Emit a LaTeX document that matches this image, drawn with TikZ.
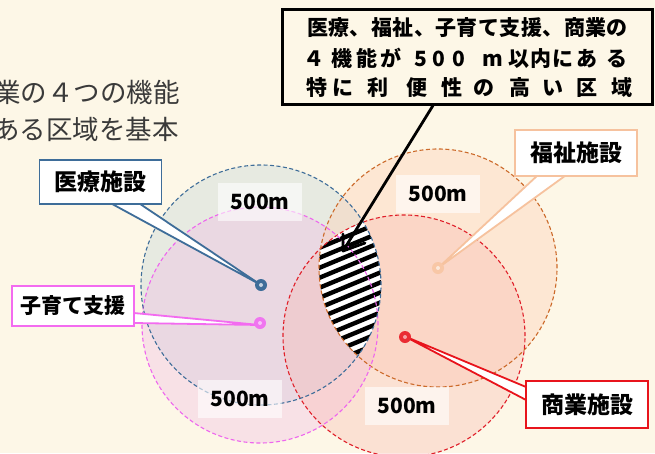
\documentclass[tikz,border=0pt]{standalone}
\usepackage{fontspec}
\newfontfamily\jp{Noto Sans CJK JP}
\usetikzlibrary{arrows.meta,calc}
\definecolor{bg}{HTML}{FDF7E7}
\definecolor{cBlue}{HTML}{3E6D99}
\definecolor{cMag}{HTML}{EE66EE}
\definecolor{cOra}{HTML}{CC6A2A}
\definecolor{cRed}{HTML}{E0202A}
\definecolor{fBlue}{HTML}{C8D8D8}
\definecolor{fMag}{HTML}{F0B8E6}
\definecolor{fOra}{HTML}{FDD2B8}
\definecolor{fRed}{HTML}{F8B8B0}
\definecolor{bMag}{HTML}{F36BF0}
\definecolor{bPeach}{HTML}{F6C29E}
\definecolor{bRed}{HTML}{E8141C}
\definecolor{dPeach}{HTML}{F8C7A6}
\definecolor{introgray}{HTML}{3A3A3A}
\begin{document}
\begin{tikzpicture}[x=1pt,y=-1pt,
  txt/.style={inner sep=0pt, text height=0.82em, text depth=0.18em, font=\jp\bfseries\fontsize{21}{21}\selectfont},
  callout/.style={draw, line width=1.8pt, fill=white, minimum width=122pt, inner sep=0pt, font=\jp\bfseries\fontsize{23}{23}\selectfont, text=black},
  distlab/.style={fill=white, fill opacity=0.6, text opacity=1, minimum width=84pt, minimum height=38pt, inner sep=0pt, font=\jp\bfseries\fontsize{21}{21}\selectfont},
  ring/.style={dash pattern=on 4pt off 2.5pt, line width=1.1pt},
  wedge/.style={line width=1.8pt, fill=white, line join=miter},
  arrowline/.style={line width=2.8pt, black, line cap=round, line join=round},
  intro/.style={anchor=west, inner sep=0pt, text=introgray, font=\jp\fontsize{26.5}{26.5}\selectfont}
]
\useasboundingbox (0,0) rectangle (655,453);
\fill[bg] (0,0) rectangle (655,453);

% centres
\coordinate (cMed) at (261,285);
\coordinate (cChild) at (260,325);
\coordinate (cWel) at (438,268);
\coordinate (cCom) at (404,336);

% circle fills
\fill[fBlue, fill opacity=0.4] (cMed) circle (120pt);
\fill[fMag, fill opacity=0.35] (cChild) circle (118pt);
\fill[fOra, fill opacity=0.42] (cWel) circle (119pt);
\fill[fRed, fill opacity=0.35] (cCom) circle (121pt);

% hatched intersection
\begin{scope}
  \clip (cMed) circle (120pt);
  \clip (cWel) circle (119pt);
  \clip (cCom) circle (121pt);
  \fill[white] (300,220) rectangle (400,370);
  \foreach \k in {0,...,22} {
    \draw[black, line width=4.4pt] (290,240+\k*10) -- ++(130,-54);
  }
\end{scope}

% dashed circles
\draw[ring, cRed] (cCom) circle (121pt);
\draw[ring, cOra] (cWel) circle (119pt);
\draw[ring, cMag] (cChild) circle (118pt);
\draw[ring, cBlue] (cMed) circle (120pt);

% distance labels
\node[distlab] (labA) at (260,202) {500m};
\node[distlab] (labB) at (438,194) {500m};
\node[distlab] (labC) at (240,399) {500m};
\node[distlab] (labD) at (407,406) {500m};

% pointers
\node[callout, draw=cBlue, minimum height=44pt] (boxMed) at (100.5,182) {医療施設};
\node[callout, draw=bMag, minimum height=40pt, font=\jp\bfseries\fontsize{21}{21}\selectfont] (boxChild) at (73,306) {子育て支援};
\node[callout, draw=bPeach, minimum height=46pt] (boxWel) at (576,153) {福祉施設};
\node[callout, draw=bRed, minimum height=47pt] (boxCom) at (587,404.5) {商業施設};

\draw[wedge, draw=cBlue] ($(boxMed.south)+(11.5,-1)$) -- (cMed) -- ($(boxMed.south)+(39.5,-1)$);
\draw[wedge, draw=bMag] ($(boxChild.east)+(-1,7)$) -- (cChild) -- ($(boxChild.east)+(-1,17)$);
\draw[wedge, draw=bPeach] ($(boxWel.south)+(-39,-1)$) -- (cWel) -- ($(boxWel.south)+(-11,-1)$);
\draw[wedge, draw=bRed] ($(boxCom.west)+(1,-17.5)$) -- (cCom) -- ($(boxCom.west)+(1,-4.5)$);

% redraw boxes over pointer bases
\node[callout, draw=cBlue, minimum height=44pt] (boxMedT) at (boxMed) {医療施設};
\node[callout, draw=bMag, minimum height=40pt, font=\jp\bfseries\fontsize{21}{21}\selectfont] (boxChildT) at (boxChild) {子育て支援};
\node[callout, draw=bPeach, minimum height=46pt] (boxWelT) at (boxWel) {福祉施設};
\node[callout, draw=bRed, minimum height=47pt] (boxComT) at (boxCom) {商業施設};

% dots
\fill[cBlue] (cMed) circle (6pt);
\fill[white!70!cBlue] (cMed) circle (2pt);
\fill[cMag!90!white] ($(cChild)+(0,-2)$) circle (6pt);
\fill[white!60!cMag] ($(cChild)+(0,-2)$) circle (2pt);
\fill[dPeach] (cWel) circle (6pt);
\fill[white!60!dPeach] (cWel) circle (2pt);
\fill[bRed!90!white] ($(cCom)+(1,1)$) circle (6pt);
\fill[white!60!bRed] ($(cCom)+(1,1)$) circle (2pt);

% top box
\node[draw=black, line width=3pt, fill=bg, minimum width=370pt, minimum height=95pt, inner sep=0pt] (topbox) at (467.5,56.5) {};
\node[txt] (line1) at (467.5,32) {\makebox[321pt][s]{医\hfill 療\hfill 、\hfill 福\hfill 祉\hfill 、\hfill 子\hfill 育\hfill て\hfill 支\hfill 援\hfill 、\hfill 商\hfill 業\hfill の}};
\foreach \xx/\ch [count=\i] in {314/４,342/機,367/能,391/が,421/5,439/0,459/0,493/m,519/以,541/内,563/に,587/あ,617/る} {
  \node[txt] (lineB\i) at (\xx,63) {\ch};
}
\foreach \xx/\ch [count=\i] in {317/特,343/に,378/利,417/便,452/性,484/の,520/高,553/い,587/区,622/域} {
  \node[txt] (lineC\i) at (\xx,92) {\ch};
}

% arrow with open barbs
\coordinate (arrTip) at (343,251);
\coordinate (arrStart) at ($(topbox.south)+(-34.5,0)$);
\draw[arrowline, line cap=butt] (arrStart) -- (arrTip);
\draw[arrowline] ($(arrTip)+(0,-17)$) -- (arrTip) -- ($(arrTip)+(22,-8)$);

% intro text (cut off at left, as in the reference)
\node[intro] (introA) at (-6,92) {業の４つの機能};
\node[intro] (introB) at (-7,129) {ある区域を基本};
\end{tikzpicture}
\end{document}
